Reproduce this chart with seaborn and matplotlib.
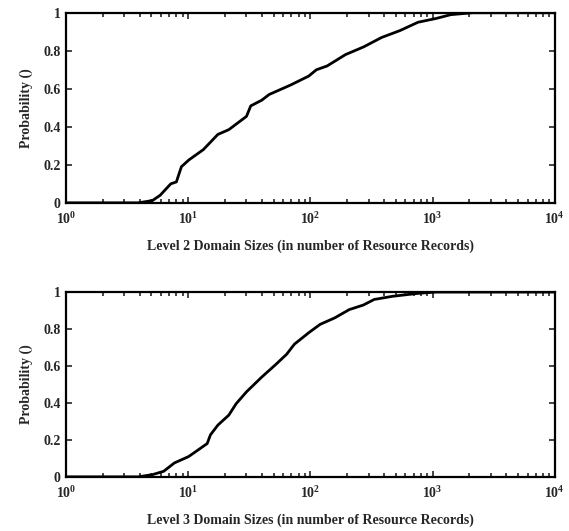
import numpy as np
import pandas as pd
import matplotlib
matplotlib.use("Agg")
import matplotlib.pyplot as plt
import seaborn as sns

# CDF points
l2_size = [1, 3.9, 5.1, 5.9, 7.2, 8.0, 8.8, 10.1, 13.3, 17.5, 21.5, 30, 32.5, 40, 46,
           69, 97, 112, 137, 194, 272, 383, 540, 760, 1070, 1410, 2130, 10000]
l2_prob = [0, 0, 0.012, 0.04, 0.10, 0.11, 0.19, 0.225, 0.28, 0.36, 0.385, 0.455, 0.51,
           0.54, 0.57, 0.62, 0.667, 0.70, 0.72, 0.78, 0.82, 0.87, 0.906, 0.95, 0.97,
           0.99, 1.0, 1.0]

l3_size = [1, 3.9, 5.1, 6.3, 7.7, 10.1, 14.3, 15.2, 17.5, 21.5, 24.7, 30, 40, 52.5,
           64, 74, 97, 120, 158, 208, 272, 333, 470, 760, 1070, 10000]
l3_prob = [0, 0, 0.012, 0.03, 0.075, 0.11, 0.18, 0.227, 0.28, 0.334, 0.396, 0.46, 0.54,
           0.61, 0.664, 0.718, 0.78, 0.825, 0.86, 0.905, 0.93, 0.96, 0.977, 0.993,
           1.0, 1.0]

x_ticks = [1, 10, 100, 1000, 10000]
x_tick_labels = ["$10^{0}$", "$10^{1}$", "$10^{2}$", "$10^{3}$", "$10^{4}$"]
y_ticks = [0, 0.2, 0.4, 0.6, 0.8, 1]
y_tick_labels = ["0", "0.2", "0.4", "0.6", "0.8", "1"]

sns.set_style("ticks")
plt.rcParams["font.family"] = ["Liberation Serif", "DejaVu Serif"]
plt.rcParams["font.weight"] = "bold"
plt.rcParams["mathtext.fontset"] = "custom"
plt.rcParams["mathtext.rm"] = "Liberation Serif:bold"
plt.rcParams["mathtext.it"] = "Liberation Serif:bold"

fig = plt.figure(figsize=(5.69, 5.31), dpi=100)
ax1 = fig.add_axes([0.116, 0.618, 0.859, 0.358])
ax2 = fig.add_axes([0.116, 0.102, 0.859, 0.348])

panels = [
    (ax1, l2_size, l2_prob, "Level 2 Domain Sizes (in number of Resource Records)"),
    (ax2, l3_size, l3_prob, "Level 3 Domain Sizes (in number of Resource Records)"),
]

for ax, xs, ps, label in panels:
    df = pd.DataFrame({"size": xs, "prob": ps})
    sns.lineplot(data=df, x="size", y="prob", ax=ax, color="black", linewidth=2.0,
                 sort=False, estimator=None)
    ax.set_xscale("log")
    ax.set_xlim(1, 10000)
    ax.set_ylim(0, 1)
    ax.set_xticks(x_ticks)
    ax.set_xticklabels(x_tick_labels)
    ax.set_yticks(y_ticks)
    ax.set_yticklabels(y_tick_labels)
    ax.tick_params(which="both", direction="in", top=True, right=True,
                   labelsize=10, width=1.2)
    ax.tick_params(axis="x", pad=6)
    ax.tick_params(axis="y", pad=4)
    ax.tick_params(which="major", length=4)
    ax.tick_params(which="minor", length=3)
    for s in ax.spines.values():
        s.set_linewidth(1.6)
        s.set_color("black")
    ax.set_xlabel(label, fontsize=10, fontweight="bold", labelpad=9)
    ax.set_ylabel("Probability ()", fontsize=10, fontweight="bold", labelpad=7)

fig.savefig("out.png", dpi=100)
